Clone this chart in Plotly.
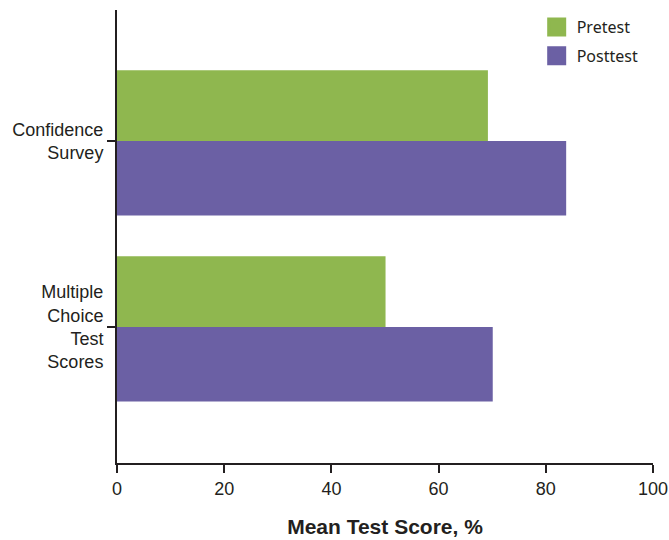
import plotly.graph_objects as go

categories = ["Confidence<br>Survey", "Multiple<br>Choice<br>Test<br>Scores"]
pretest = [69.2, 50.1]
posttest = [83.8, 70.1]
series_names = ["Pretest", "Posttest"]
x_ticks = [0, 20, 40, 60, 80, 100]

GREEN = "#8fb74f"
PURPLE = "#6b60a4"
INK = "#231f20"

fig = go.Figure()
fig.add_trace(go.Bar(
    y=categories, x=pretest, orientation="h", name=series_names[0],
    marker=dict(color=GREEN, line=dict(width=0)),
    offset=-0.38, width=0.38, showlegend=False,
))
fig.add_trace(go.Bar(
    y=categories, x=posttest, orientation="h", name=series_names[1],
    marker=dict(color=PURPLE, line=dict(width=0)),
    offset=0.0, width=0.40, showlegend=False,
))
# legend entries
for nm, col in zip(series_names, [GREEN, PURPLE]):
    fig.add_trace(go.Scatter(
        x=[None], y=[None], mode="markers", name=nm, legendgroup=nm,
        marker=dict(symbol="square", size=16, color=col, line=dict(color=col, width=3)),
    ))

fig.update_layout(
    width=669, height=540,
    margin=dict(l=117, r=16, t=10, b=77, autoexpand=False),
    paper_bgcolor="white", plot_bgcolor="white",
    font=dict(family="Liberation Sans, Arial, sans-serif", size=18, color=INK),
    showlegend=True,
    legend=dict(
        x=0.783, y=1.0, xanchor="left", yanchor="top",
        font=dict(family="Noto Sans, Open Sans, sans-serif", size=16, color=INK),
        tracegroupgap=5, bgcolor="rgba(0,0,0,0)",
    ),
    xaxis=dict(
        range=[0, 100], tickvals=x_ticks, ticktext=[str(v) for v in x_ticks],
        showgrid=False, zeroline=False, automargin=False,
        showline=True, linecolor=INK, linewidth=2,
        ticks="outside", ticklen=8, tickwidth=2, tickcolor=INK,
        title=dict(text="<b>Mean Test Score, %</b>", font=dict(size=21, color=INK), standoff=22),
    ),
    yaxis=dict(
        categoryorder="array", categoryarray=categories,
        range=[1.731, -0.704], automargin=False,
        showgrid=False, zeroline=False,
        showline=True, linecolor=INK, linewidth=2,
        ticks="outside", ticklen=8, tickwidth=2, tickcolor=INK,
    ),
)

fig.write_html(
    "out.html",
    config={"displayModeBar": False},
    post_script="document.body.style.margin='0';document.body.style.overflow='hidden';",
)
